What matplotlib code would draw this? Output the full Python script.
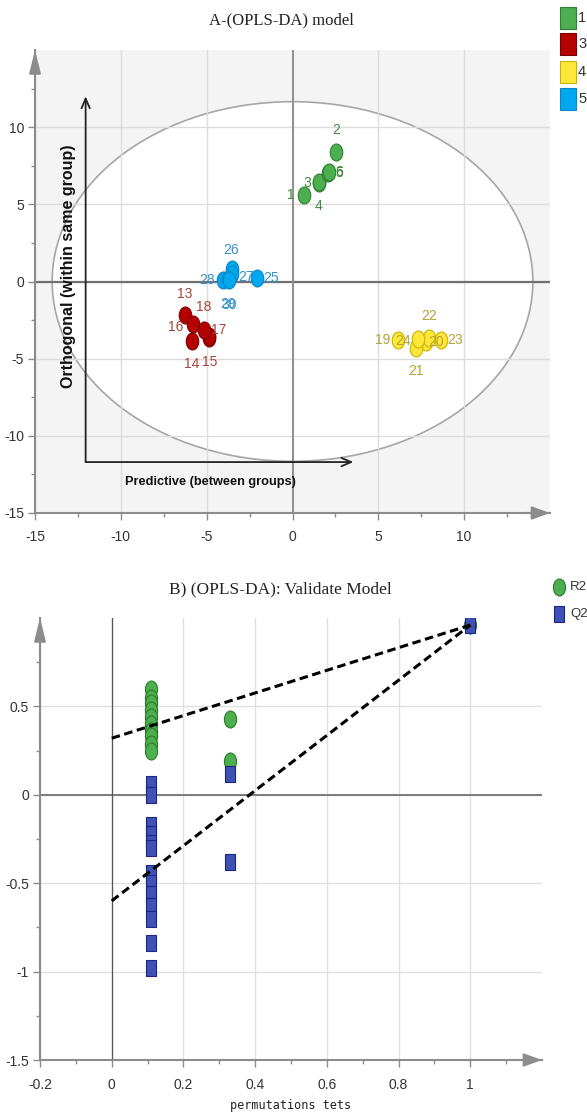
import matplotlib
matplotlib.use('Agg')
import matplotlib.pyplot as plt
from matplotlib.patches import Ellipse, Rectangle
from matplotlib.markers import MarkerStyle
from matplotlib.transforms import Affine2D
from matplotlib.lines import Line2D

NARROW = ['Liberation Sans Narrow', 'DejaVu Sans Condensed', 'Liberation Sans', 'DejaVu Sans']
plt.rcParams['font.family'] = NARROW
plt.rcParams['axes.unicode_minus'] = False

# ---------------- A) OPLS-DA score data ----------------
g1_ids = ['1', '2', '3', '4', '5', '6']
g1_x = [0.66, 2.55, 1.56, 1.54, 2.08, 2.10]
g1_y = [5.61, 8.37, 6.35, 6.43, 7.06, 7.08]
g1_off = [(-13, 0), (0, -22), (-12, 0), (0, 24), (11, 0), (11, 0)]

g3_ids = ['13', '14', '15', '16', '17', '18']
g3_x = [-6.26, -5.86, -4.85, -5.77, -4.85, -5.15]
g3_y = [-2.16, -3.86, -3.65, -2.78, -3.50, -3.13]
g3_off = [(0, -21), (0, 23), (0, 24), (-18, 3), (9, -6), (0, -23)]

g4_ids = ['19', '20', '21', '22', '23', '24']
g4_x = [6.16, 7.75, 7.22, 7.97, 8.65, 7.33]
g4_y = [-3.82, -3.90, -4.30, -3.64, -3.82, -3.70]
g4_off = [(-16, 0), (11, 0), (0, 23), (0, -22), (14, 0), (-15, 2)]

g5_ids = ['25', '26', '27', '28', '29', '30']
g5_x = [-2.07, -3.55, -3.50, -4.07, -3.75, -3.70]
g5_y = [0.21, 0.82, 0.50, 0.10, 0.17, 0.10]
g5_off = [(14, 0), (0, -19), (14, 3), (-16, 0), (0, 25), (0, 25)]

legend_names = ['1', '3', '4', '5']
fills = ['#4caf50', '#b50000', '#ffe73a', '#00a8f0']
edges = ['#2f7f33', '#7a0000', '#c9b300', '#0a86c8']
txtcols = ['#3f8a3f', '#a3463c', '#b3a233', '#3392c8']

# ---------------- B) permutation data ----------------
r2_x = [0.11] * 10 + [0.331, 0.331, 1.0]
r2_y = [0.60, 0.55, 0.52, 0.48, 0.44, 0.40, 0.36, 0.33, 0.29, 0.25, 0.43, 0.19, 0.96]
q2_x = [0.11] * 13 + [0.331, 0.331, 1.0]
q2_y = [0.06, 0.0, -0.17, -0.22, -0.27, -0.30, -0.44, -0.50, -0.56, -0.63, -0.70,
        -0.84, -0.98, 0.12, -0.38, 0.96]
line_x = [0, 1]
r2_line = [0.32, 0.96]
q2_line = [-0.60, 0.96]

W, H = 587, 1115
fig = plt.figure(figsize=(W / 100, H / 100), dpi=100)

def box(l, r, t, b):
    return [l / W, 1 - b / H, (r - l) / W, (b - t) / H]

def axis_style(ax, col='#8c8c8c'):
    for s in ['top', 'right']:
        ax.spines[s].set_visible(False)
    for s in ['left', 'bottom']:
        ax.spines[s].set_color(col)
        ax.spines[s].set_linewidth(1.5)
    ax.tick_params(which='major', length=5, width=1, color=col, labelsize=10,
                   labelcolor='#333333', pad=3)
    ax.tick_params(which='minor', length=3, width=1, color=col)
    ax.annotate('', xy=(0, 1.0), xytext=(0, 0.95), xycoords='axes fraction',
                arrowprops=dict(arrowstyle='-|>,head_length=1.4,head_width=0.35',
                                color=col, lw=1.5, shrinkA=0, shrinkB=0))
    ax.annotate('', xy=(1.0, 0), xytext=(0.95, 0), xycoords='axes fraction',
                arrowprops=dict(arrowstyle='-|>,head_length=1.1,head_width=0.4',
                                color=col, lw=1.5, shrinkA=0, shrinkB=0))

# ================= top chart =================
ax = fig.add_axes(box(35, 550, 50, 513))
ax.set_facecolor('#f4f4f4')
ax.set_xlim(-15, 15)
ax.set_ylim(-15, 15)
ax.set_xticks([-15, -10, -5, 0, 5, 10])
ax.set_yticks([-15, -10, -5, 0, 5, 10])
ax.set_xticks([-12.5, -7.5, -2.5, 2.5, 7.5, 12.5], minor=True)
ax.set_yticks([-12.5, -7.5, -2.5, 2.5, 7.5, 12.5], minor=True)
ax.set_axisbelow(True)
ax.grid(True, which='major', color='#dcdcdc', lw=1)
axis_style(ax)
ax.tick_params(axis='x', pad=7)

ax.add_patch(Ellipse((0, 0), 28.0, 23.3, facecolor='white', edgecolor='#a6a6a6',
                     lw=1.2, zorder=0.3))
ax.axhline(0, color='#707070', lw=1.6, zorder=0.7)
ax.axvline(0, color='#8f8f8f', lw=1.4, zorder=0.7)

ell = MarkerStyle('o', transform=Affine2D().scale(0.74, 1.0))
groups = [(g1_ids, g1_x, g1_y, g1_off), (g3_ids, g3_x, g3_y, g3_off),
          (g4_ids, g4_x, g4_y, g4_off), (g5_ids, g5_x, g5_y, g5_off)]
for k, (ids, xs, ys, offs) in enumerate(groups):
    ax.plot(xs, ys, linestyle='none', marker=ell, ms=12.2, mfc=fills[k],
            mec=edges[k], mew=0.8, zorder=3)
    for i, x, y, o in zip(ids, xs, ys, offs):
        ax.annotate(i, (x, y), xytext=(o[0], -o[1]), textcoords='offset pixels',
                    ha='center', va='center', color=txtcols[k], fontsize=10, zorder=4)

# direction arrows
ax.annotate('', xy=(-12.05, 12.0), xytext=(-12.05, -11.7),
            arrowprops=dict(arrowstyle='->,head_length=0.7,head_width=0.3',
                            color='#222222', lw=1.3, shrinkA=0, shrinkB=0))
ax.annotate('', xy=(3.55, -11.7), xytext=(-12.05, -11.7),
            arrowprops=dict(arrowstyle='->,head_length=0.7,head_width=0.3',
                            color='#222222', lw=1.3, shrinkA=0, shrinkB=0))
ax.text(-13.05, 0.97, 'Orthogonal (within same group)', rotation=90, ha='center',
        va='center', fontweight='bold', family=['Liberation Sans', 'DejaVu Sans'],
        fontsize=11.5, color='#111111')
ax.text(-9.77, -13.0, 'Predictive (between groups)', ha='left', va='center',
        fontweight='bold', family=['Liberation Sans', 'DejaVu Sans'],
        fontsize=9.2, color='#111111')

fig.text(281 / W, 1 - 20 / H, 'A-(OPLS-DA) model', ha='center', va='center',
         family=['Liberation Serif', 'DejaVu Serif'], fontsize=12, color='#222222')

# group legend
tops = [7, 33, 61, 88]
for name, fc, ec, t in zip(legend_names, fills, edges, tops):
    fig.add_artist(Rectangle((560 / W, 1 - (t + 22) / H), 16 / W, 22 / H,
                             transform=fig.transFigure, facecolor=fc, edgecolor=ec, lw=0.8))
    fig.text(578 / W, 1 - (t + 11) / H, name, ha='left', va='center', fontsize=10.5,
             color='#333333')

# ================= bottom chart =================
ax2 = fig.add_axes(box(40, 542, 618, 1060))
ax2.set_xlim(-0.2, 1.2)
ax2.set_ylim(-1.5, 1.0)
ax2.set_xticks([-0.2, 0, 0.2, 0.4, 0.6, 0.8, 1.0])
ax2.set_xticklabels(['-0.2', '0', '0.2', '0.4', '0.6', '0.8', '1'])
ax2.set_yticks([-1.5, -1, -0.5, 0, 0.5])
ax2.set_yticklabels(['-1.5', '-1', '-0.5', '0', '0.5'])
ax2.set_xticks([-0.1, 0.1, 0.3, 0.5, 0.7, 0.9, 1.1], minor=True)
ax2.set_yticks([-1.25, -0.75, -0.25, 0.25, 0.75], minor=True)
ax2.set_axisbelow(True)
ax2.grid(True, which='major', color='#e0e0e0', lw=1)
axis_style(ax2)
ax2.tick_params(axis='x', pad=8)
ax2.axhline(0, color='#7a7a7a', lw=1.4, zorder=0.7)
ax2.axvline(0, color='#555555', lw=0.9, zorder=0.7)

circ = MarkerStyle('o', transform=Affine2D().scale(0.72, 1.0))
sq = MarkerStyle('s', transform=Affine2D().scale(0.66, 1.0))
ax2.plot(r2_x, r2_y, linestyle='none', marker=circ, ms=12.2, mfc='#4cae4c',
         mec='#2d7a2d', mew=0.8, zorder=3)
ax2.plot(q2_x, q2_y, linestyle='none', marker=sq, ms=11.5, mfc='#3f51b5',
         mec='#1c2680', mew=0.8, zorder=3)
ax2.plot(line_x, r2_line, color='black', lw=2.2, dashes=(2.8, 1.5), zorder=4)
ax2.plot(line_x, q2_line, color='black', lw=2.2, dashes=(2.8, 1.5), zorder=4)

ax2.set_xlabel('permutations tets', family=['DejaVu Sans Mono'], fontsize=8.5,
               color='#222222', labelpad=5)

fig.text(280 / W, 1 - 589 / H, 'B) (OPLS-DA): Validate Model', ha='center', va='center',
         family=['Liberation Serif', 'DejaVu Serif'], fontsize=12.5, color='#222222')

fig.add_artist(Line2D([558.7 / W], [1 - 587 / H], marker=circ, ms=12.2, mfc='#4cae4c',
                      mec='#2d7a2d', mew=0.8, linestyle='none', transform=fig.transFigure))
fig.add_artist(Line2D([558.7 / W], [1 - 614 / H], marker=sq, ms=11.5, mfc='#3f51b5',
                      mec='#1c2680', mew=0.8, linestyle='none', transform=fig.transFigure))
fig.text(570 / W, 1 - 587 / H, 'R2', ha='left', va='center', fontsize=9.5, color='#333333')
fig.text(570 / W, 1 - 614 / H, 'Q2', ha='left', va='center', fontsize=9.5, color='#333333')

fig.savefig('out.png', dpi=100)
